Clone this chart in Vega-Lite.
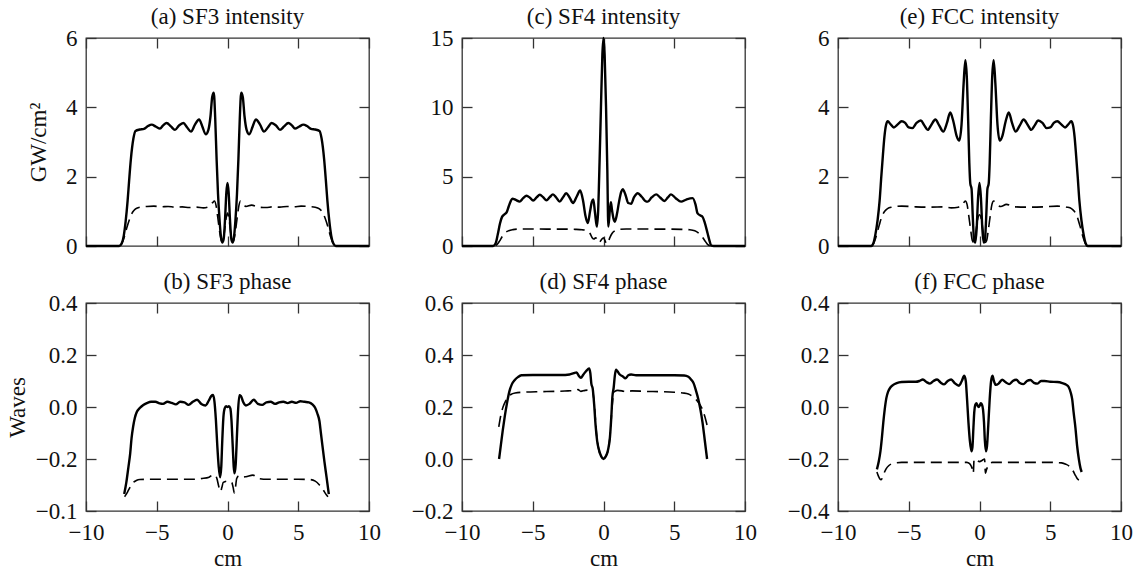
{
"$schema": "https://vega.github.io/schema/vega-lite/v6.json",
"background": "white",
"padding": {"left": 5, "top": 4, "right": 0, "bottom": 0},
"spacing": 28,
"datasets": {
"as": [{"x":-10,"y":0},{"x":-7.65,"y":0},{"x":-7.48,"y":0.07},{"x":-7.33,"y":0.3},{"x":-7.2,"y":0.7},{"x":-7.06,"y":1.3},{"x":-6.95,"y":1.9},{"x":-6.83,"y":2.5},{"x":-6.65,"y":3.1},{"x":-6.5,"y":3.32},{"x":-6.2,"y":3.36},{"x":-5.9,"y":3.38},{"x":-5.62,"y":3.46},{"x":-5.36,"y":3.5},{"x":-5.05,"y":3.44},{"x":-4.77,"y":3.39},{"x":-4.55,"y":3.48},{"x":-4.3,"y":3.55},{"x":-4.0,"y":3.45},{"x":-3.71,"y":3.35},{"x":-3.42,"y":3.48},{"x":-3.12,"y":3.55},{"x":-2.85,"y":3.42},{"x":-2.58,"y":3.3},{"x":-2.3,"y":3.5},{"x":-2.01,"y":3.65},{"x":-1.78,"y":3.45},{"x":-1.54,"y":3.22},{"x":-1.35,"y":3.35},{"x":-1.2,"y":3.75},{"x":-1.08,"y":4.3},{"x":-0.97,"y":4.42},{"x":-0.87,"y":3.7},{"x":-0.77,"y":2.5},{"x":-0.67,"y":1.5},{"x":-0.57,"y":0.8},{"x":-0.47,"y":0.3},{"x":-0.37,"y":0.1},{"x":-0.27,"y":0.2},{"x":-0.17,"y":0.8},{"x":-0.08,"y":1.55},{"x":0,"y":1.82},{"x":0.08,"y":1.55},{"x":0.17,"y":0.8},{"x":0.27,"y":0.2},{"x":0.37,"y":0.1},{"x":0.47,"y":0.3},{"x":0.57,"y":0.8},{"x":0.67,"y":1.5},{"x":0.77,"y":2.5},{"x":0.87,"y":3.7},{"x":0.97,"y":4.42},{"x":1.08,"y":4.3},{"x":1.2,"y":3.75},{"x":1.35,"y":3.35},{"x":1.54,"y":3.22},{"x":1.78,"y":3.45},{"x":2.01,"y":3.65},{"x":2.3,"y":3.5},{"x":2.58,"y":3.3},{"x":2.85,"y":3.42},{"x":3.12,"y":3.55},{"x":3.42,"y":3.48},{"x":3.71,"y":3.35},{"x":4.0,"y":3.45},{"x":4.3,"y":3.55},{"x":4.55,"y":3.48},{"x":4.77,"y":3.39},{"x":5.05,"y":3.44},{"x":5.36,"y":3.5},{"x":5.62,"y":3.46},{"x":5.9,"y":3.38},{"x":6.2,"y":3.36},{"x":6.5,"y":3.32},{"x":6.65,"y":3.1},{"x":6.83,"y":2.5},{"x":6.95,"y":1.9},{"x":7.06,"y":1.3},{"x":7.2,"y":0.7},{"x":7.33,"y":0.3},{"x":7.48,"y":0.07},{"x":7.65,"y":0},{"x":10,"y":0}],
"ad": [{"x":-10,"y":0},{"x":-7.7,"y":0},{"x":-7.5,"y":0.05},{"x":-7.3,"y":0.25},{"x":-7.1,"y":0.55},{"x":-6.9,"y":0.8},{"x":-6.7,"y":0.98},{"x":-6.5,"y":1.07},{"x":-6.2,"y":1.12},{"x":-5.7,"y":1.14},{"x":-5.2,"y":1.15},{"x":-4.7,"y":1.13},{"x":-4.2,"y":1.14},{"x":-3.7,"y":1.12},{"x":-3.2,"y":1.13},{"x":-2.7,"y":1.11},{"x":-2.2,"y":1.12},{"x":-1.7,"y":1.1},{"x":-1.3,"y":1.14},{"x":-1.05,"y":1.25},{"x":-0.92,"y":1.3},{"x":-0.8,"y":1.15},{"x":-0.68,"y":0.8},{"x":-0.55,"y":0.4},{"x":-0.43,"y":0.15},{"x":-0.33,"y":0.12},{"x":-0.22,"y":0.4},{"x":-0.1,"y":0.8},{"x":0,"y":0.95},{"x":0.1,"y":0.8},{"x":0.22,"y":0.4},{"x":0.33,"y":0.12},{"x":0.43,"y":0.15},{"x":0.55,"y":0.4},{"x":0.68,"y":0.8},{"x":0.8,"y":1.15},{"x":0.92,"y":1.3},{"x":1.05,"y":1.25},{"x":1.3,"y":1.14},{"x":1.7,"y":1.18},{"x":2.2,"y":1.12},{"x":2.7,"y":1.11},{"x":3.2,"y":1.13},{"x":3.7,"y":1.12},{"x":4.2,"y":1.14},{"x":4.7,"y":1.13},{"x":5.2,"y":1.15},{"x":5.7,"y":1.14},{"x":6.2,"y":1.12},{"x":6.5,"y":1.07},{"x":6.7,"y":0.98},{"x":6.9,"y":0.8},{"x":7.1,"y":0.55},{"x":7.3,"y":0.25},{"x":7.5,"y":0.05},{"x":7.7,"y":0},{"x":10,"y":0}],
"cs": [{"x":-10,"y":0},{"x":-7.8,"y":0},{"x":-7.62,"y":0.2},{"x":-7.47,"y":0.85},{"x":-7.32,"y":1.6},{"x":-7.17,"y":2.1},{"x":-7.0,"y":2.28},{"x":-6.85,"y":2.42},{"x":-6.7,"y":2.85},{"x":-6.56,"y":3.22},{"x":-6.44,"y":3.42},{"x":-6.2,"y":3.32},{"x":-5.93,"y":3.2},{"x":-5.68,"y":3.45},{"x":-5.44,"y":3.62},{"x":-5.2,"y":3.48},{"x":-4.97,"y":3.28},{"x":-4.73,"y":3.5},{"x":-4.5,"y":3.7},{"x":-4.27,"y":3.52},{"x":-4.03,"y":3.3},{"x":-3.8,"y":3.52},{"x":-3.57,"y":3.72},{"x":-3.33,"y":3.48},{"x":-3.1,"y":3.2},{"x":-2.87,"y":3.5},{"x":-2.64,"y":3.8},{"x":-2.4,"y":3.5},{"x":-2.15,"y":3.1},{"x":-1.9,"y":3.55},{"x":-1.65,"y":4.0},{"x":-1.45,"y":3.3},{"x":-1.28,"y":2.2},{"x":-1.11,"y":1.65},{"x":-0.95,"y":2.5},{"x":-0.82,"y":3.2},{"x":-0.72,"y":3.35},{"x":-0.6,"y":2.4},{"x":-0.47,"y":1.4},{"x":-0.38,"y":2.5},{"x":-0.28,"y":6.0},{"x":-0.18,"y":10.0},{"x":-0.08,"y":13.8},{"x":0,"y":15},{"x":0.08,"y":13.8},{"x":0.18,"y":10.0},{"x":0.27,"y":5.5},{"x":0.34,"y":1.4},{"x":0.45,"y":2.6},{"x":0.52,"y":3.15},{"x":0.6,"y":2.6},{"x":0.7,"y":2.0},{"x":0.8,"y":1.75},{"x":0.95,"y":2.3},{"x":1.1,"y":3.2},{"x":1.25,"y":3.9},{"x":1.36,"y":4.1},{"x":1.55,"y":3.7},{"x":1.75,"y":3.1},{"x":1.95,"y":3.05},{"x":2.15,"y":3.5},{"x":2.42,"y":3.8},{"x":2.7,"y":3.55},{"x":2.95,"y":3.25},{"x":3.13,"y":3.2},{"x":3.4,"y":3.5},{"x":3.72,"y":3.72},{"x":4.0,"y":3.5},{"x":4.3,"y":3.25},{"x":4.55,"y":3.5},{"x":4.77,"y":3.72},{"x":5.1,"y":3.45},{"x":5.48,"y":3.2},{"x":5.85,"y":3.35},{"x":6.3,"y":3.45},{"x":6.5,"y":3.0},{"x":6.65,"y":2.35},{"x":6.85,"y":2.2},{"x":7.0,"y":2.1},{"x":7.15,"y":1.7},{"x":7.36,"y":0.9},{"x":7.5,"y":0.35},{"x":7.6,"y":0.05},{"x":7.8,"y":0},{"x":10,"y":0}],
"cd": [{"x":-10,"y":0},{"x":-7.75,"y":0},{"x":-7.55,"y":0.08},{"x":-7.35,"y":0.35},{"x":-7.15,"y":0.7},{"x":-6.95,"y":0.95},{"x":-6.7,"y":1.1},{"x":-6.4,"y":1.18},{"x":-6.0,"y":1.22},{"x":-5.0,"y":1.23},{"x":-4.0,"y":1.22},{"x":-3.0,"y":1.22},{"x":-2.0,"y":1.2},{"x":-1.5,"y":1.17},{"x":-1.15,"y":1.1},{"x":-0.95,"y":0.9},{"x":-0.8,"y":0.6},{"x":-0.68,"y":0.5},{"x":-0.55,"y":0.6},{"x":-0.42,"y":0.4},{"x":-0.3,"y":0.25},{"x":-0.15,"y":0.45},{"x":0,"y":0.6},{"x":0.12,"y":0.35},{"x":0.22,"y":0.15},{"x":0.32,"y":0.25},{"x":0.45,"y":0.6},{"x":0.6,"y":0.9},{"x":0.8,"y":1.1},{"x":1.1,"y":1.2},{"x":1.6,"y":1.23},{"x":2.5,"y":1.23},{"x":3.5,"y":1.22},{"x":4.5,"y":1.22},{"x":5.5,"y":1.2},{"x":6.1,"y":1.17},{"x":6.45,"y":1.1},{"x":6.7,"y":0.95},{"x":6.95,"y":0.7},{"x":7.15,"y":0.4},{"x":7.35,"y":0.12},{"x":7.55,"y":0.01},{"x":7.75,"y":0},{"x":10,"y":0}],
"es": [{"x":-10,"y":0},{"x":-7.65,"y":0},{"x":-7.5,"y":0.08},{"x":-7.35,"y":0.35},{"x":-7.2,"y":0.75},{"x":-7.06,"y":1.3},{"x":-6.94,"y":2.0},{"x":-6.83,"y":2.6},{"x":-6.72,"y":3.15},{"x":-6.6,"y":3.5},{"x":-6.48,"y":3.6},{"x":-6.3,"y":3.52},{"x":-6.05,"y":3.42},{"x":-5.8,"y":3.5},{"x":-5.5,"y":3.6},{"x":-5.25,"y":3.55},{"x":-5.0,"y":3.42},{"x":-4.75,"y":3.4},{"x":-4.45,"y":3.55},{"x":-4.15,"y":3.62},{"x":-3.9,"y":3.48},{"x":-3.66,"y":3.35},{"x":-3.4,"y":3.5},{"x":-3.12,"y":3.65},{"x":-2.85,"y":3.48},{"x":-2.56,"y":3.3},{"x":-2.3,"y":3.55},{"x":-2.07,"y":3.85},{"x":-1.85,"y":3.6},{"x":-1.62,"y":3.18},{"x":-1.43,"y":3.04},{"x":-1.27,"y":3.5},{"x":-1.12,"y":4.7},{"x":-1.0,"y":5.36},{"x":-0.9,"y":4.9},{"x":-0.8,"y":3.6},{"x":-0.72,"y":2.4},{"x":-0.65,"y":1.8},{"x":-0.56,"y":1.65},{"x":-0.47,"y":0.8},{"x":-0.38,"y":0.15},{"x":-0.29,"y":0.1},{"x":-0.2,"y":0.5},{"x":-0.1,"y":1.4},{"x":0,"y":1.82},{"x":0.1,"y":1.4},{"x":0.2,"y":0.5},{"x":0.29,"y":0.1},{"x":0.38,"y":0.15},{"x":0.47,"y":0.8},{"x":0.56,"y":1.65},{"x":0.65,"y":1.8},{"x":0.72,"y":2.4},{"x":0.8,"y":3.6},{"x":0.9,"y":4.9},{"x":1.0,"y":5.36},{"x":1.12,"y":4.7},{"x":1.27,"y":3.5},{"x":1.43,"y":3.04},{"x":1.62,"y":3.18},{"x":1.85,"y":3.6},{"x":2.07,"y":3.85},{"x":2.3,"y":3.55},{"x":2.56,"y":3.3},{"x":2.85,"y":3.48},{"x":3.12,"y":3.65},{"x":3.4,"y":3.5},{"x":3.66,"y":3.35},{"x":3.9,"y":3.48},{"x":4.15,"y":3.62},{"x":4.45,"y":3.55},{"x":4.75,"y":3.4},{"x":5.0,"y":3.42},{"x":5.25,"y":3.55},{"x":5.5,"y":3.6},{"x":5.8,"y":3.5},{"x":6.05,"y":3.42},{"x":6.3,"y":3.52},{"x":6.48,"y":3.6},{"x":6.6,"y":3.5},{"x":6.72,"y":3.15},{"x":6.83,"y":2.6},{"x":6.94,"y":2.0},{"x":7.06,"y":1.3},{"x":7.2,"y":0.75},{"x":7.35,"y":0.35},{"x":7.5,"y":0.08},{"x":7.65,"y":0},{"x":10,"y":0}],
"ed": [{"x":-10,"y":0},{"x":-7.7,"y":0},{"x":-7.5,"y":0.06},{"x":-7.3,"y":0.28},{"x":-7.1,"y":0.58},{"x":-6.9,"y":0.85},{"x":-6.7,"y":1.0},{"x":-6.5,"y":1.08},{"x":-6.2,"y":1.12},{"x":-5.5,"y":1.15},{"x":-4.5,"y":1.13},{"x":-3.5,"y":1.12},{"x":-2.5,"y":1.13},{"x":-2.0,"y":1.1},{"x":-1.5,"y":1.12},{"x":-1.2,"y":1.2},{"x":-1.0,"y":1.3},{"x":-0.88,"y":1.2},{"x":-0.75,"y":0.85},{"x":-0.62,"y":0.45},{"x":-0.5,"y":0.15},{"x":-0.4,"y":0.1},{"x":-0.28,"y":0.35},{"x":-0.14,"y":0.75},{"x":0,"y":0.9},{"x":0.14,"y":0.75},{"x":0.28,"y":0.35},{"x":0.4,"y":0.1},{"x":0.5,"y":0.15},{"x":0.62,"y":0.45},{"x":0.75,"y":0.85},{"x":0.88,"y":1.2},{"x":1.0,"y":1.3},{"x":1.2,"y":1.2},{"x":1.5,"y":1.14},{"x":1.9,"y":1.2},{"x":2.5,"y":1.13},{"x":3.5,"y":1.12},{"x":4.5,"y":1.13},{"x":5.5,"y":1.15},{"x":6.2,"y":1.12},{"x":6.5,"y":1.08},{"x":6.7,"y":1.0},{"x":6.9,"y":0.85},{"x":7.1,"y":0.58},{"x":7.3,"y":0.28},{"x":7.5,"y":0.06},{"x":7.7,"y":0},{"x":10,"y":0}],
"bs": [{"x":-7.3,"y":-0.335},{"x":-7.15,"y":-0.29},{"x":-7.0,"y":-0.23},{"x":-6.88,"y":-0.18},{"x":-6.78,"y":-0.12},{"x":-6.67,"y":-0.076},{"x":-6.55,"y":-0.042},{"x":-6.42,"y":-0.02},{"x":-6.2,"y":-0.004},{"x":-5.95,"y":0.008},{"x":-5.7,"y":0.015},{"x":-5.4,"y":0.02},{"x":-5.1,"y":0.02},{"x":-4.8,"y":0.014},{"x":-4.55,"y":0.012},{"x":-4.25,"y":0.02},{"x":-3.95,"y":0.016},{"x":-3.65,"y":0.01},{"x":-3.35,"y":0.02},{"x":-3.05,"y":0.018},{"x":-2.75,"y":0.008},{"x":-2.45,"y":0.02},{"x":-2.15,"y":0.028},{"x":-1.85,"y":0.012},{"x":-1.55,"y":0.006},{"x":-1.32,"y":0.025},{"x":-1.15,"y":0.042},{"x":-1.02,"y":0.046},{"x":-0.92,"y":0.02},{"x":-0.82,"y":-0.05},{"x":-0.72,"y":-0.15},{"x":-0.62,"y":-0.23},{"x":-0.52,"y":-0.27},{"x":-0.44,"y":-0.23},{"x":-0.37,"y":-0.13},{"x":-0.29,"y":-0.04},{"x":-0.2,"y":-0.005},{"x":-0.1,"y":0.003},{"x":0,"y":0.0},{"x":0.1,"y":0.003},{"x":0.2,"y":-0.005},{"x":0.28,"y":-0.05},{"x":0.36,"y":-0.14},{"x":0.44,"y":-0.23},{"x":0.5,"y":-0.255},{"x":0.58,"y":-0.22},{"x":0.66,"y":-0.12},{"x":0.74,"y":-0.02},{"x":0.84,"y":0.045},{"x":0.95,"y":0.042},{"x":1.1,"y":0.02},{"x":1.3,"y":0.006},{"x":1.55,"y":0.012},{"x":1.85,"y":0.028},{"x":2.15,"y":0.012},{"x":2.45,"y":0.008},{"x":2.75,"y":0.018},{"x":3.05,"y":0.02},{"x":3.35,"y":0.012},{"x":3.65,"y":0.018},{"x":3.95,"y":0.02},{"x":4.25,"y":0.015},{"x":4.55,"y":0.02},{"x":4.85,"y":0.016},{"x":5.15,"y":0.022},{"x":5.45,"y":0.02},{"x":5.75,"y":0.018},{"x":6.0,"y":0.01},{"x":6.2,"y":-0.004},{"x":6.35,"y":-0.025},{"x":6.5,"y":-0.055},{"x":6.6,"y":-0.1},{"x":6.7,"y":-0.145},{"x":6.85,"y":-0.21},{"x":7.0,"y":-0.27},{"x":7.16,"y":-0.335}],
"bd": [{"x":-7.27,"y":-0.345},{"x":-7.15,"y":-0.335},{"x":-7.0,"y":-0.32},{"x":-6.85,"y":-0.305},{"x":-6.65,"y":-0.29},{"x":-6.45,"y":-0.283},{"x":-6.2,"y":-0.279},{"x":-5.5,"y":-0.278},{"x":-4.5,"y":-0.278},{"x":-3.5,"y":-0.278},{"x":-2.5,"y":-0.278},{"x":-1.8,"y":-0.275},{"x":-1.3,"y":-0.27},{"x":-1.05,"y":-0.262},{"x":-0.88,"y":-0.262},{"x":-0.75,"y":-0.275},{"x":-0.62,"y":-0.305},{"x":-0.5,"y":-0.325},{"x":-0.4,"y":-0.31},{"x":-0.3,"y":-0.29},{"x":0,"y":-0.285},{"x":0.3,"y":-0.29},{"x":0.4,"y":-0.31},{"x":0.48,"y":-0.33},{"x":0.56,"y":-0.31},{"x":0.65,"y":-0.275},{"x":0.8,"y":-0.265},{"x":1.0,"y":-0.27},{"x":1.3,"y":-0.268},{"x":1.8,"y":-0.262},{"x":2.2,"y":-0.275},{"x":2.8,"y":-0.278},{"x":4,"y":-0.278},{"x":5,"y":-0.278},{"x":5.8,"y":-0.279},{"x":6.2,"y":-0.285},{"x":6.5,"y":-0.3},{"x":6.75,"y":-0.318},{"x":6.95,"y":-0.335},{"x":7.1,"y":-0.345}],
"ds": [{"x":-7.38,"y":0.0},{"x":-7.25,"y":0.055},{"x":-7.12,"y":0.11},{"x":-6.98,"y":0.163},{"x":-6.82,"y":0.215},{"x":-6.65,"y":0.26},{"x":-6.48,"y":0.287},{"x":-6.27,"y":0.304},{"x":-6.05,"y":0.315},{"x":-5.8,"y":0.322},{"x":-5.0,"y":0.323},{"x":-4.0,"y":0.323},{"x":-3.0,"y":0.323},{"x":-2.4,"y":0.325},{"x":-2.1,"y":0.33},{"x":-1.9,"y":0.333},{"x":-1.75,"y":0.32},{"x":-1.6,"y":0.312},{"x":-1.42,"y":0.325},{"x":-1.2,"y":0.34},{"x":-1.02,"y":0.348},{"x":-0.93,"y":0.33},{"x":-0.86,"y":0.29},{"x":-0.76,"y":0.27},{"x":-0.66,"y":0.21},{"x":-0.56,"y":0.13},{"x":-0.45,"y":0.07},{"x":-0.32,"y":0.035},{"x":-0.16,"y":0.01},{"x":0,"y":0.0},{"x":0.16,"y":0.01},{"x":0.32,"y":0.035},{"x":0.45,"y":0.08},{"x":0.55,"y":0.16},{"x":0.63,"y":0.24},{"x":0.72,"y":0.275},{"x":0.8,"y":0.32},{"x":0.88,"y":0.343},{"x":0.98,"y":0.338},{"x":1.15,"y":0.325},{"x":1.35,"y":0.318},{"x":1.55,"y":0.31},{"x":1.75,"y":0.322},{"x":1.95,"y":0.325},{"x":2.3,"y":0.322},{"x":3,"y":0.322},{"x":4,"y":0.322},{"x":5,"y":0.322},{"x":5.7,"y":0.321},{"x":6.0,"y":0.316},{"x":6.2,"y":0.305},{"x":6.38,"y":0.29},{"x":6.55,"y":0.26},{"x":6.7,"y":0.23},{"x":6.85,"y":0.19},{"x":7.0,"y":0.14},{"x":7.15,"y":0.075},{"x":7.32,"y":0.0}],
"dd": [{"x":-7.4,"y":0.124},{"x":-7.25,"y":0.17},{"x":-7.1,"y":0.2},{"x":-6.93,"y":0.222},{"x":-6.77,"y":0.236},{"x":-6.55,"y":0.248},{"x":-6.25,"y":0.254},{"x":-5.6,"y":0.257},{"x":-4.5,"y":0.259},{"x":-3.5,"y":0.26},{"x":-2.5,"y":0.262},{"x":-2.0,"y":0.263},{"x":-1.8,"y":0.267},{"x":-1.6,"y":0.26},{"x":-1.3,"y":0.264},{"x":-1.0,"y":0.265},{"x":-0.8,"y":0.262},{"x":-0.68,"y":0.23},{"x":-0.58,"y":0.16},{"x":-0.48,"y":0.09},{"x":-0.35,"y":0.04},{"x":-0.18,"y":0.012},{"x":0,"y":0.003},{"x":0.18,"y":0.012},{"x":0.35,"y":0.04},{"x":0.48,"y":0.1},{"x":0.58,"y":0.18},{"x":0.68,"y":0.24},{"x":0.8,"y":0.26},{"x":1.0,"y":0.264},{"x":1.3,"y":0.262},{"x":1.6,"y":0.258},{"x":2,"y":0.262},{"x":3,"y":0.26},{"x":4,"y":0.259},{"x":5,"y":0.257},{"x":5.6,"y":0.254},{"x":6.0,"y":0.25},{"x":6.3,"y":0.24},{"x":6.55,"y":0.228},{"x":6.8,"y":0.21},{"x":7.0,"y":0.19},{"x":7.15,"y":0.165},{"x":7.32,"y":0.13}],
"fs": [{"x":-7.25,"y":-0.24},{"x":-7.12,"y":-0.21},{"x":-7.0,"y":-0.17},{"x":-6.9,"y":-0.12},{"x":-6.8,"y":-0.06},{"x":-6.7,"y":-0.01},{"x":-6.58,"y":0.035},{"x":-6.45,"y":0.06},{"x":-6.3,"y":0.075},{"x":-6.1,"y":0.085},{"x":-5.85,"y":0.092},{"x":-5.5,"y":0.096},{"x":-5.0,"y":0.097},{"x":-4.5,"y":0.097},{"x":-4.25,"y":0.1},{"x":-4.0,"y":0.106},{"x":-3.75,"y":0.096},{"x":-3.5,"y":0.09},{"x":-3.25,"y":0.1},{"x":-3.0,"y":0.106},{"x":-2.75,"y":0.094},{"x":-2.5,"y":0.087},{"x":-2.25,"y":0.1},{"x":-2.0,"y":0.106},{"x":-1.75,"y":0.092},{"x":-1.45,"y":0.082},{"x":-1.25,"y":0.1},{"x":-1.08,"y":0.12},{"x":-0.97,"y":0.1},{"x":-0.88,"y":0.03},{"x":-0.78,"y":-0.06},{"x":-0.68,"y":-0.13},{"x":-0.57,"y":-0.17},{"x":-0.5,"y":-0.155},{"x":-0.43,"y":-0.08},{"x":-0.37,"y":-0.02},{"x":-0.3,"y":0.008},{"x":-0.22,"y":0.015},{"x":-0.14,"y":0.006},{"x":-0.06,"y":0.0},{"x":0.02,"y":0.006},{"x":0.09,"y":0.015},{"x":0.17,"y":0.01},{"x":0.25,"y":-0.01},{"x":0.32,"y":-0.06},{"x":0.38,"y":-0.13},{"x":0.45,"y":-0.17},{"x":0.53,"y":-0.15},{"x":0.62,"y":-0.07},{"x":0.72,"y":0.03},{"x":0.82,"y":0.1},{"x":0.92,"y":0.12},{"x":1.02,"y":0.1},{"x":1.15,"y":0.085},{"x":1.35,"y":0.09},{"x":1.6,"y":0.105},{"x":1.85,"y":0.095},{"x":2.1,"y":0.088},{"x":2.35,"y":0.1},{"x":2.6,"y":0.105},{"x":2.85,"y":0.092},{"x":3.1,"y":0.088},{"x":3.35,"y":0.1},{"x":3.6,"y":0.104},{"x":3.85,"y":0.093},{"x":4.1,"y":0.09},{"x":4.35,"y":0.1},{"x":4.6,"y":0.1},{"x":5.0,"y":0.097},{"x":5.5,"y":0.096},{"x":5.85,"y":0.092},{"x":6.15,"y":0.085},{"x":6.3,"y":0.077},{"x":6.45,"y":0.055},{"x":6.55,"y":0.03},{"x":6.65,"y":-0.02},{"x":6.78,"y":-0.08},{"x":6.9,"y":-0.15},{"x":7.02,"y":-0.2},{"x":7.14,"y":-0.236},{"x":7.22,"y":-0.25}],
"fd": [{"x":-7.25,"y":-0.25},{"x":-7.15,"y":-0.265},{"x":-7.05,"y":-0.276},{"x":-6.95,"y":-0.28},{"x":-6.85,"y":-0.27},{"x":-6.75,"y":-0.255},{"x":-6.6,"y":-0.238},{"x":-6.4,"y":-0.225},{"x":-6.1,"y":-0.217},{"x":-5.5,"y":-0.213},{"x":-4.5,"y":-0.213},{"x":-3.5,"y":-0.213},{"x":-2.5,"y":-0.213},{"x":-1.5,"y":-0.213},{"x":-0.9,"y":-0.213},{"x":-0.7,"y":-0.218},{"x":-0.58,"y":-0.228},{"x":-0.5,"y":-0.24},{"x":-0.44,"y":-0.255},{"x":-0.38,"y":-0.2},{"x":-0.2,"y":-0.205},{"x":0,"y":-0.21},{"x":0.2,"y":-0.205},{"x":0.36,"y":-0.2},{"x":0.42,"y":-0.255},{"x":0.5,"y":-0.24},{"x":0.6,"y":-0.228},{"x":0.72,"y":-0.218},{"x":0.9,"y":-0.213},{"x":2,"y":-0.213},{"x":3,"y":-0.213},{"x":4,"y":-0.213},{"x":5,"y":-0.213},{"x":5.8,"y":-0.215},{"x":6.1,"y":-0.22},{"x":6.35,"y":-0.228},{"x":6.6,"y":-0.245},{"x":6.8,"y":-0.265},{"x":6.95,"y":-0.278},{"x":7.1,"y":-0.283},{"x":7.22,"y":-0.285}]
},
"hconcat": [
{"spacing": 10, "vconcat": [
 {"title": "(a) SF3 intensity", "width": 283, "height": 208,
  "layer": [
   {"data": {"name": "as"}, "mark": {"type": "line", "color": "black", "strokeWidth": 2.4, "interpolate": "monotone"}, "encoding": {"x": {"field": "x", "type": "quantitative", "scale": {"domain": [-10, 10], "nice": false}, "axis": {"values": [-10, -5, 0, 5, 10], "labels": false, "title": null}}, "y": {"field": "y", "type": "quantitative", "scale": {"domain": [0, 6], "nice": false, "zero": false}, "axis": {"values": [0, 2, 4, 6], "title": "GW/cm²", "titlePadding": 15}}}},
   {"data": {"name": "ad"}, "mark": {"type": "line", "color": "black", "strokeWidth": 1.6, "strokeDash": [11, 6], "interpolate": "monotone"}, "encoding": {"x": {"field": "x", "type": "quantitative", "scale": {"domain": [-10, 10], "nice": false}, "axis": null}, "y": {"field": "y", "type": "quantitative", "scale": {"domain": [0, 6], "nice": false, "zero": false}, "axis": null}}},
   {"data": {"name": "as"}, "mark": {"type": "line", "strokeOpacity": 0}, "encoding": {"x": {"field": "x", "type": "quantitative", "scale": {"domain": [-10, 10], "nice": false}, "axis": {"orient": "top", "values": [-10, -5, 0, 5, 10], "labels": false, "title": null}}, "y": {"field": "y", "type": "quantitative", "scale": {"domain": [0, 6], "nice": false, "zero": false}, "axis": {"orient": "right", "values": [0, 2, 4, 6], "labels": false, "title": null}}}}
  ],
  "resolve": {"axis": {"x": "independent", "y": "independent"}}},
 {"title": "(b) SF3 phase", "width": 283, "height": 208,
  "layer": [
   {"data": {"name": "bs"}, "mark": {"type": "line", "color": "black", "strokeWidth": 2.4, "interpolate": "monotone"}, "encoding": {"x": {"field": "x", "type": "quantitative", "scale": {"domain": [-10, 10], "nice": false}, "axis": {"values": [-10, -5, 0, 5, 10], "title": "cm"}}, "y": {"field": "y", "type": "quantitative", "scale": {"domain": [-0.4, 0.4], "nice": false, "zero": false}, "axis": {"values": [-0.4, -0.2, 0, 0.2, 0.4], "format": ".1f", "labelExpr": "datum.value < -0.3 ? '−0.1' : datum.label", "title": "Waves"}}}},
   {"data": {"name": "bd"}, "mark": {"type": "line", "color": "black", "strokeWidth": 1.6, "strokeDash": [11, 6], "interpolate": "monotone"}, "encoding": {"x": {"field": "x", "type": "quantitative", "scale": {"domain": [-10, 10], "nice": false}, "axis": null}, "y": {"field": "y", "type": "quantitative", "scale": {"domain": [-0.4, 0.4], "nice": false, "zero": false}, "axis": null}}},
   {"data": {"name": "bs"}, "mark": {"type": "line", "strokeOpacity": 0}, "encoding": {"x": {"field": "x", "type": "quantitative", "scale": {"domain": [-10, 10], "nice": false}, "axis": {"orient": "top", "values": [-10, -5, 0, 5, 10], "labels": false, "title": null}}, "y": {"field": "y", "type": "quantitative", "scale": {"domain": [-0.4, 0.4], "nice": false, "zero": false}, "axis": {"orient": "right", "values": [-0.4, -0.2, 0, 0.2, 0.4], "labels": false, "title": null}}}}
  ],
  "resolve": {"axis": {"x": "independent", "y": "independent"}}}
]},
{"spacing": 10, "vconcat": [
 {"title": "(c) SF4 intensity", "width": 283, "height": 208,
  "layer": [
   {"data": {"name": "cs"}, "mark": {"type": "line", "color": "black", "strokeWidth": 2.4, "interpolate": "monotone"}, "encoding": {"x": {"field": "x", "type": "quantitative", "scale": {"domain": [-10, 10], "nice": false}, "axis": {"values": [-10, -5, 0, 5, 10], "labels": false, "title": null}}, "y": {"field": "y", "type": "quantitative", "scale": {"domain": [0, 15], "nice": false, "zero": false}, "axis": {"values": [0, 5, 10, 15], "title": null}}}},
   {"data": {"name": "cd"}, "mark": {"type": "line", "color": "black", "strokeWidth": 1.6, "strokeDash": [11, 6], "interpolate": "monotone"}, "encoding": {"x": {"field": "x", "type": "quantitative", "scale": {"domain": [-10, 10], "nice": false}, "axis": null}, "y": {"field": "y", "type": "quantitative", "scale": {"domain": [0, 15], "nice": false, "zero": false}, "axis": null}}},
   {"data": {"name": "cs"}, "mark": {"type": "line", "strokeOpacity": 0}, "encoding": {"x": {"field": "x", "type": "quantitative", "scale": {"domain": [-10, 10], "nice": false}, "axis": {"orient": "top", "values": [-10, -5, 0, 5, 10], "labels": false, "title": null}}, "y": {"field": "y", "type": "quantitative", "scale": {"domain": [0, 15], "nice": false, "zero": false}, "axis": {"orient": "right", "values": [0, 5, 10, 15], "labels": false, "title": null}}}}
  ],
  "resolve": {"axis": {"x": "independent", "y": "independent"}}},
 {"title": "(d) SF4 phase", "width": 283, "height": 208,
  "layer": [
   {"data": {"name": "ds"}, "mark": {"type": "line", "color": "black", "strokeWidth": 2.4, "interpolate": "monotone"}, "encoding": {"x": {"field": "x", "type": "quantitative", "scale": {"domain": [-10, 10], "nice": false}, "axis": {"values": [-10, -5, 0, 5, 10], "title": "cm"}}, "y": {"field": "y", "type": "quantitative", "scale": {"domain": [-0.2, 0.6], "nice": false, "zero": false}, "axis": {"values": [-0.2, 0, 0.2, 0.4, 0.6], "format": ".1f", "title": null}}}},
   {"data": {"name": "dd"}, "mark": {"type": "line", "color": "black", "strokeWidth": 1.6, "strokeDash": [11, 6], "interpolate": "monotone"}, "encoding": {"x": {"field": "x", "type": "quantitative", "scale": {"domain": [-10, 10], "nice": false}, "axis": null}, "y": {"field": "y", "type": "quantitative", "scale": {"domain": [-0.2, 0.6], "nice": false, "zero": false}, "axis": null}}},
   {"data": {"name": "ds"}, "mark": {"type": "line", "strokeOpacity": 0}, "encoding": {"x": {"field": "x", "type": "quantitative", "scale": {"domain": [-10, 10], "nice": false}, "axis": {"orient": "top", "values": [-10, -5, 0, 5, 10], "labels": false, "title": null}}, "y": {"field": "y", "type": "quantitative", "scale": {"domain": [-0.2, 0.6], "nice": false, "zero": false}, "axis": {"orient": "right", "values": [-0.2, 0, 0.2, 0.4, 0.6], "labels": false, "title": null}}}}
  ],
  "resolve": {"axis": {"x": "independent", "y": "independent"}}}
]},
{"spacing": 10, "vconcat": [
 {"title": "(e) FCC intensity", "width": 283, "height": 208,
  "layer": [
   {"data": {"name": "es"}, "mark": {"type": "line", "color": "black", "strokeWidth": 2.4, "interpolate": "monotone"}, "encoding": {"x": {"field": "x", "type": "quantitative", "scale": {"domain": [-10, 10], "nice": false}, "axis": {"values": [-10, -5, 0, 5, 10], "labels": false, "title": null}}, "y": {"field": "y", "type": "quantitative", "scale": {"domain": [0, 6], "nice": false, "zero": false}, "axis": {"values": [0, 2, 4, 6], "title": null}}}},
   {"data": {"name": "ed"}, "mark": {"type": "line", "color": "black", "strokeWidth": 1.6, "strokeDash": [11, 6], "interpolate": "monotone"}, "encoding": {"x": {"field": "x", "type": "quantitative", "scale": {"domain": [-10, 10], "nice": false}, "axis": null}, "y": {"field": "y", "type": "quantitative", "scale": {"domain": [0, 6], "nice": false, "zero": false}, "axis": null}}},
   {"data": {"name": "es"}, "mark": {"type": "line", "strokeOpacity": 0}, "encoding": {"x": {"field": "x", "type": "quantitative", "scale": {"domain": [-10, 10], "nice": false}, "axis": {"orient": "top", "values": [-10, -5, 0, 5, 10], "labels": false, "title": null}}, "y": {"field": "y", "type": "quantitative", "scale": {"domain": [0, 6], "nice": false, "zero": false}, "axis": {"orient": "right", "values": [0, 2, 4, 6], "labels": false, "title": null}}}}
  ],
  "resolve": {"axis": {"x": "independent", "y": "independent"}}},
 {"title": "(f) FCC phase", "width": 283, "height": 208,
  "layer": [
   {"data": {"name": "fs"}, "mark": {"type": "line", "color": "black", "strokeWidth": 2.4, "interpolate": "monotone"}, "encoding": {"x": {"field": "x", "type": "quantitative", "scale": {"domain": [-10, 10], "nice": false}, "axis": {"values": [-10, -5, 0, 5, 10], "title": "cm"}}, "y": {"field": "y", "type": "quantitative", "scale": {"domain": [-0.4, 0.4], "nice": false, "zero": false}, "axis": {"values": [-0.4, -0.2, 0, 0.2, 0.4], "format": ".1f", "title": null}}}},
   {"data": {"name": "fd"}, "mark": {"type": "line", "color": "black", "strokeWidth": 1.6, "strokeDash": [11, 6], "interpolate": "monotone"}, "encoding": {"x": {"field": "x", "type": "quantitative", "scale": {"domain": [-10, 10], "nice": false}, "axis": null}, "y": {"field": "y", "type": "quantitative", "scale": {"domain": [-0.4, 0.4], "nice": false, "zero": false}, "axis": null}}},
   {"data": {"name": "fs"}, "mark": {"type": "line", "strokeOpacity": 0}, "encoding": {"x": {"field": "x", "type": "quantitative", "scale": {"domain": [-10, 10], "nice": false}, "axis": {"orient": "top", "values": [-10, -5, 0, 5, 10], "labels": false, "title": null}}, "y": {"field": "y", "type": "quantitative", "scale": {"domain": [-0.4, 0.4], "nice": false, "zero": false}, "axis": {"orient": "right", "values": [-0.4, -0.2, 0, 0.2, 0.4], "labels": false, "title": null}}}}
  ],
  "resolve": {"axis": {"x": "independent", "y": "independent"}}}
]}
],
"config": {
 "font": "Liberation Serif",
 "view": {"stroke": "#333333", "strokeWidth": 1.3},
 "axis": {"domain": false, "grid": false, "tickSize": -10, "tickColor": "#333333", "tickWidth": 1.3, "labelFont": "Liberation Serif", "labelFontSize": 23, "labelColor": "#111111", "labelPadding": 19, "labelFlush": false, "labelOverlap": false, "titleFont": "Liberation Serif", "titleFontSize": 23, "titleFontWeight": "normal", "titleColor": "#111111", "titlePadding": 6, "minExtent": 0},
 "axisX": {"labelPadding": 20, "titlePadding": 3},
 "title": {"font": "Liberation Serif", "fontSize": 23, "fontWeight": "normal", "color": "#111111", "offset": -1.5}
}
}
